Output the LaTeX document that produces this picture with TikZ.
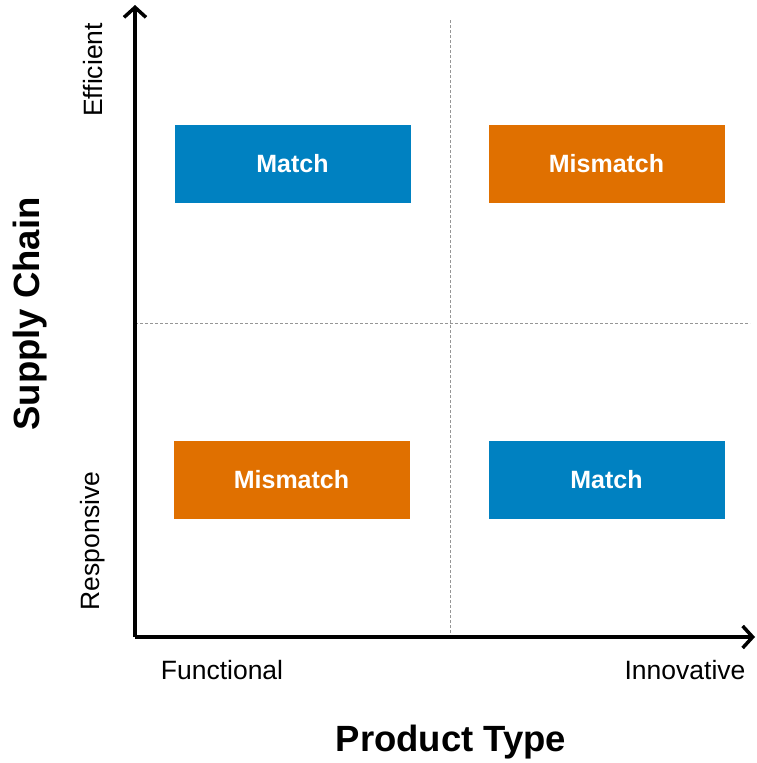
\documentclass[tikz,border=0pt]{standalone}
\usepackage{fontspec}
\setmainfont{Liberation Sans}
\usetikzlibrary{arrows.meta}
\definecolor{matchblue}{RGB}{0,129,193}
\definecolor{misorange}{RGB}{224,112,0}
\definecolor{gridgray}{RGB}{150,150,150}
\begin{document}
\begin{tikzpicture}[x=1pt,y=-1pt,
  axis/.style={line width=3.5pt,-{Straight Barb[length=10pt,width=22pt,line width=3.5pt]}},
  quadline/.style={gridgray,line width=1pt,dash pattern=on 3pt off 2pt},
  cell/.style={minimum width=236pt,minimum height=78pt,inner sep=0pt,
    text=white,font=\fontsize{25}{28}\selectfont\bfseries},
  matchcell/.style={cell,fill=matchblue},
  mismatchcell/.style={cell,fill=misorange},
  ticklabel/.style={font=\fontsize{26.5}{30}\selectfont,inner sep=0pt},
  axislabel/.style={font=\fontsize{36.5}{40}\selectfont\bfseries,inner sep=0pt}]
\useasboundingbox (0,0) rectangle (756,763);

% axes and quadrant guides
\coordinate (o) at (135,637);
\coordinate (ytop) at (135,5);
\coordinate (xend) at (755,637);
\coordinate (vtop) at (450,20);
\coordinate (vbot) at (450,637);
\coordinate (hl) at (135,323);
\coordinate (hr) at (750,323);
\draw[quadline] (vtop) -- (vbot);
\draw[quadline] (hl) -- (hr);
\draw[axis] (o) -- (ytop);
\draw[axis] (o) -- (xend);

% quadrant cells
\node[matchcell]    (tl) at (292.5,164) {Match};
\node[mismatchcell] (tr) at (606.5,164) {Mismatch};
\node[mismatchcell] (bl) at (291.5,480) {Mismatch};
\node[matchcell]    (br) at (606.5,479.5) {Match};

% tick labels
\node[ticklabel,rotate=90] (eff) at (93,70) {Efficient};
\node[ticklabel,rotate=90] (resp) at (93,541) {Responsive};
\node[ticklabel] (func) at (222,670) {Functional};
\node[ticklabel] (innov) at (685,670) {Innovative};

% axis titles
\node[axislabel,rotate=90] (ytitle) at (30,314) {Supply Chain};
\node[axislabel] (xtitle) at (451,742) {Product Type};
\end{tikzpicture}
\end{document}
